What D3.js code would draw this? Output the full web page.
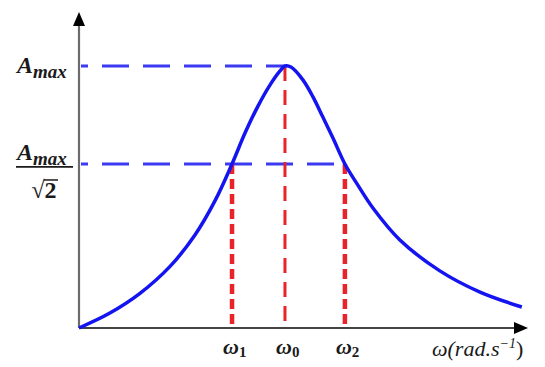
<!DOCTYPE html>
<html>
<head>
<meta charset="utf-8">
<script src="https://cdn.jsdelivr.net/npm/d3@7"></script>
<style>
  body { margin: 0; background: #fff; }
  text { font-family: 'Liberation Serif', 'DejaVu Serif', serif; font-weight: bold; font-style: italic; fill: #1a1a1a; }
</style>
</head>
<body>
<div id="chart"></div>
<script>
// resonance curve, omega normalised to omega0, amplitude normalised to Amax
const omegaRatio = [0, 0.150, 0.296, 0.442, 0.563, 0.660, 0.743, 0.806, 0.869, 0.927, 0.976, 1.0, 1.029, 1.087, 1.136, 1.184, 1.233, 1.291, 1.350, 1.427, 1.558, 1.752, 1.947, 2.150];
const amplitude  = [0, 0.057, 0.132, 0.235, 0.355, 0.485, 0.626, 0.744, 0.847, 0.927, 0.981, 1.0, 0.996, 0.947, 0.882, 0.805, 0.725, 0.626, 0.550, 0.458, 0.336, 0.218, 0.137, 0.080];

const markerOmega = [0.743, 1.0, 1.291];      // omega1, omega0, omega2
const markerSub = ['1', '0', '2'];
const markerLevel = [0.626, 1.0, 0.626];
const levels = [1.0, 0.626];                   // Amax, Amax/sqrt2
const levelEnds = [1.0, 1.291];

const width = 545, height = 367;
const svg = d3.select('#chart').append('svg')
    .attr('width', width)
    .attr('height', height);

const x = d3.scaleLinear().domain([0, 2.18]).range([79, 528]);
const y = d3.scaleLinear().domain([0, 1.206]).range([328, 12]);

// blue dashed level lines
svg.selectAll('.level')
    .data(levels)
    .enter()
    .append('line')
    .attr('x1', x(0) + 2)
    .attr('x2', (d, i) => x(levelEnds[i]))
    .attr('y1', d => y(d))
    .attr('y2', d => y(d))
    .attr('stroke', '#3a3af2')
    .attr('stroke-width', 3)
    .attr('stroke-dasharray', '27,14')
    .attr('stroke-dashoffset', 20);

// red dashed verticals
svg.selectAll('.vert')
    .data(markerOmega)
    .enter()
    .append('line')
    .attr('x1', d => x(d))
    .attr('x2', d => x(d))
    .attr('y1', (d, i) => y(markerLevel[i]))
    .attr('y2', y(0))
    .attr('stroke', '#e8232a')
    .attr('stroke-width', (d, i) => i === 1 ? 3 : 4.5)
    .attr('stroke-dasharray', (d, i) => i === 1 ? '15,9' : '10,5');

// axes
svg.append('line')
    .attr('x1', x(0)).attr('x2', x(0))
    .attr('y1', y(0)).attr('y2', y(1.206) + 10)
    .attr('stroke', '#6b6b6b').attr('stroke-width', 2.2);
svg.append('line')
    .attr('x1', x(0)).attr('x2', x(2.18) - 10)
    .attr('y1', y(0)).attr('y2', y(0))
    .attr('stroke', '#444').attr('stroke-width', 2.2);

const tipY = y(1.206), tipX = x(2.18);
svg.append('path')
    .attr('d', `M${x(0)},${tipY} L${x(0) - 6},${tipY + 14} L${x(0) + 6},${tipY + 14} Z`)
    .attr('fill', '#000');
svg.append('path')
    .attr('d', `M${tipX},${y(0)} L${tipX - 14},${y(0) - 6} L${tipX - 14},${y(0) + 6} Z`)
    .attr('fill', '#000');

// curve
const line = d3.line()
    .x((d, i) => x(omegaRatio[i]))
    .y(d => y(d))
    .curve(d3.curveCatmullRom.alpha(0.5));
svg.append('path')
    .datum(amplitude)
    .attr('d', line)
    .attr('fill', 'none')
    .attr('stroke', '#1414f0')
    .attr('stroke-width', 3.5);

// y labels
const amax = svg.append('text')
    .attr('x', 17).attr('y', y(1.0) + 7)
    .style('font-size', '24px');
amax.append('tspan').text('A');
amax.append('tspan').attr('dy', 5).style('font-size', '19px').text('max');

const frac = svg.append('text')
    .attr('x', 17).attr('y', y(0.626) - 4)
    .style('font-size', '24px');
frac.append('tspan').text('A');
frac.append('tspan').attr('dy', 5).style('font-size', '19px').text('max');
svg.append('line')
    .attr('x1', 16).attr('x2', 73)
    .attr('y1', y(0.626) + 3).attr('y2', y(0.626) + 3)
    .attr('stroke', '#1a1a1a').attr('stroke-width', 1.8);
svg.append('text')
    .attr('x', 44).attr('y', y(0.626) + 34)
    .attr('text-anchor', 'middle')
    .style('font-style', 'normal')
    .style('font-size', '24px')
    .text('√2');
svg.append('line')
    .attr('x1', 44).attr('x2', 58)
    .attr('y1', y(0.626) + 16).attr('y2', y(0.626) + 16)
    .attr('stroke', '#1a1a1a').attr('stroke-width', 1.5);

// omega labels
markerOmega.forEach((d, i) => {
    const t = svg.append('text')
        .attr('x', x(d) - 9).attr('y', 354)
        .style('font-size', '22px');
    t.append('tspan').text('ω');
    t.append('tspan').attr('dy', 3).style('font-size', '15px').style('font-style', 'normal').text(markerSub[i]);
});

const xl = svg.append('text')
    .attr('x', 432).attr('y', 356)
    .style('font-size', '22px')
    .style('font-weight', 'normal');
xl.append('tspan').text('ω(rad.s');
xl.append('tspan').attr('dy', -8).style('font-size', '14px').text('−1');
xl.append('tspan').attr('dy', 8).style('font-style', 'normal').text(')');
</script>
</body>
</html>
